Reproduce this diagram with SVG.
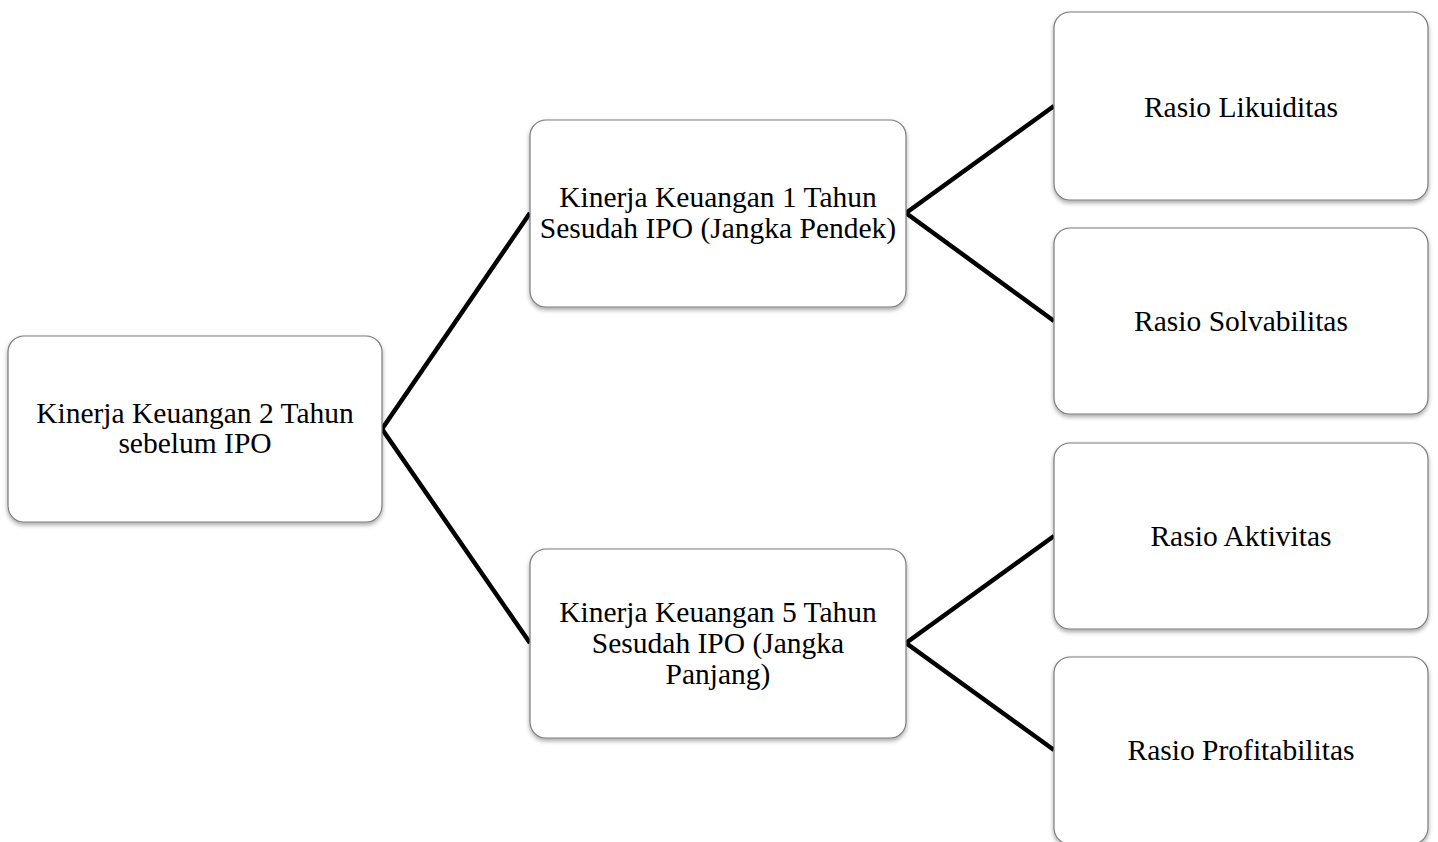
<svg xmlns="http://www.w3.org/2000/svg" width="1438" height="842" viewBox="0 0 1438 842">
<style>
.box{fill:#fff;stroke:#7a7a7a;stroke-width:1.2;filter:url(#sh)}
.t{font-family:"Liberation Serif","Times New Roman",serif;font-size:29.5px;fill:#000;text-anchor:middle;dominant-baseline:central}
.c{stroke:#000;stroke-width:4.5;fill:none;stroke-linejoin:miter}
</style>
<defs>
<filter id="sh" x="-5%" y="-5%" width="110%" height="115%">
<feDropShadow dx="0" dy="2.5" stdDeviation="2" flood-color="#000" flood-opacity="0.35"/>
</filter>
</defs>
<rect width="1438" height="842" fill="#fff"/>
<g id="connectors">
<polyline class="c" points="530,213 382,429 530,643"/>
<polyline class="c" points="1054,106 906,213 1054,321"/>
<polyline class="c" points="1054,536 906,643 1054,750"/>
</g>
<g id="root">
<rect class="box" x="8" y="336" width="374" height="186" rx="16"/>
<text class="t" x="195" y="413">Kinerja Keuangan 2 Tahun</text>
<text class="t" x="195" y="443">sebelum IPO</text>
</g>
<g id="short">
<rect class="box" x="530" y="120" width="376" height="187" rx="16"/>
<text class="t" x="718" y="197">Kinerja Keuangan 1 Tahun</text>
<text class="t" x="718" y="228">Sesudah IPO (Jangka Pendek)</text>
</g>
<g id="long">
<rect class="box" x="530" y="549" width="376" height="189" rx="16"/>
<text class="t" x="718" y="612">Kinerja Keuangan 5 Tahun</text>
<text class="t" x="718" y="643">Sesudah IPO (Jangka</text>
<text class="t" x="718" y="674">Panjang)</text>
</g>
<g id="likuiditas">
<rect class="box" x="1054" y="12" width="374" height="188" rx="16"/>
<text class="t" x="1241" y="107">Rasio Likuiditas</text>
</g>
<g id="solvabilitas">
<rect class="box" x="1054" y="228" width="374" height="186" rx="16"/>
<text class="t" x="1241" y="321">Rasio Solvabilitas</text>
</g>
<g id="aktivitas">
<rect class="box" x="1054" y="443" width="374" height="186" rx="16"/>
<text class="t" x="1241" y="536">Rasio Aktivitas</text>
</g>
<g id="profitabilitas">
<rect class="box" x="1054" y="657" width="374" height="187" rx="16"/>
<text class="t" x="1241" y="750">Rasio Profitabilitas</text>
</g>
</svg>
